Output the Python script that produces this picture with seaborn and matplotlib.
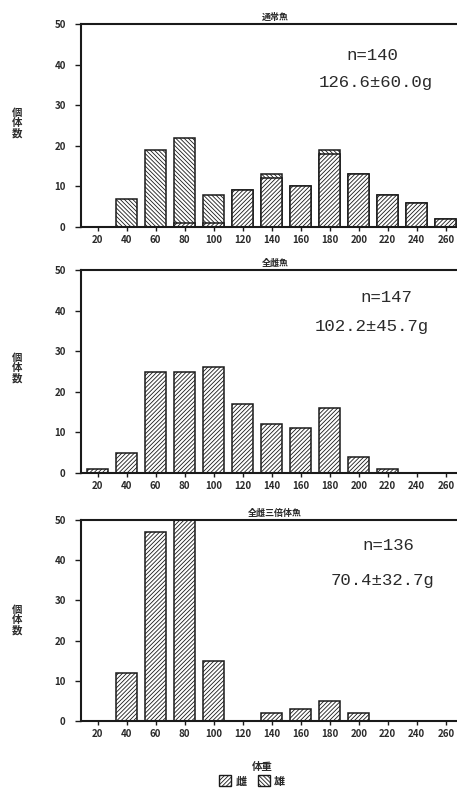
import numpy as np
import pandas as pd
import matplotlib.pyplot as plt
import seaborn as sns
from matplotlib.patches import Patch

# weight classes (g)
weights = ['20', '40', '60', '80', '100', '120', '140', '160', '180', '200', '220', '240', '260']

# 通常魚 (normal fish): female bottom, male stacked on top
normal_female = [0, 0, 0, 1, 1, 9, 12, 10, 18, 13, 8, 6, 2]
normal_male = [0, 7, 19, 21, 7, 0, 1, 0, 1, 0, 0, 0, 0]

# 全雌魚 (all-female)
allfem = [1, 5, 25, 25, 26, 17, 12, 11, 16, 4, 1, 0, 0]

# 全雌三倍体魚 (all-female triploid)
triploid = [0, 12, 47, 50, 15, 0, 2, 3, 5, 2, 0, 0, 0]

titles = ['通常魚', '全雌魚', '全雌三倍体魚']
n_text = ['n=140', 'n=147', 'n=136']
mean_text = ['126.6±60.0g', '102.2±45.7g', '70.4±32.7g']

sns.set_theme(style='white')
plt.rcParams['font.family'] = ['Noto Sans CJK JP', 'DejaVu Sans']
plt.rcParams['hatch.linewidth'] = 0.6
plt.rcParams['hatch.color'] = '#222222'

W, H = 457, 789
fig = plt.figure(figsize=(W / 100, H / 100), dpi=100)
fig.patch.set_facecolor('white')

# axes boxes in pixels: (left, top, bottom)
boxes = [(81, 24, 227), (81, 270, 473), (81, 520, 721)]
ax_right = 469

panels = []
for l, t, b in boxes:
    ax = fig.add_axes([l / W, 1 - b / H, (ax_right - l) / W, (b - t) / H])
    panels.append(ax)

txtc = '#2a2a2a'
male_hatch = '\\' * 8
fem_hatch = '/' * 8


def draw_bars(ax, vals, hatch):
    df = pd.DataFrame({'w': weights, 'n': vals})
    sns.barplot(data=df, x='w', y='n', order=weights, ax=ax, color='white',
                width=0.72, edgecolor='#1a1a1a', linewidth=1.1, hatch=hatch,
                saturation=1, errorbar=None)
    # hide zero-height bars
    for p in ax.patches:
        if p.get_height() == 0:
            p.set_visible(False)


# top: total with male hatch, female overlay at bottom
total = list(np.array(normal_female) + np.array(normal_male))
draw_bars(panels[0], total, male_hatch)
draw_bars(panels[0], normal_female, fem_hatch)
draw_bars(panels[1], allfem, fem_hatch)
draw_bars(panels[2], triploid, fem_hatch)

ylab_y = [123, 368, 620]
n_pos = [(372, 55), (386, 297), (388, 545)]
m_pos = [(376, 83), (372, 326), (382, 580)]
for i, ax in enumerate(panels):
    ax.set_xlim(-0.57, 12.8)
    ax.set_ylim(0, 50)
    ax.set_yticks([0, 10, 20, 30, 40, 50])
    ax.set_xlabel('')
    ax.set_ylabel('')
    for s in ['top', 'left', 'bottom']:
        ax.spines[s].set_linewidth(1.5)
        ax.spines[s].set_color('#1a1a1a')
    ax.spines['right'].set_visible(False)
    ax.tick_params(axis='both', which='both', direction='out', length=4, width=1,
                   colors='#1a1a1a', labelsize=7, labelcolor=txtc, pad=3)
    ax.tick_params(axis='x', bottom=True, length=3)
    ax.tick_params(axis='y', left=True, pad=7)
    for lab in ax.get_xticklabels() + ax.get_yticklabels():
        lab.set_fontweight('bold')
    ax.set_title(titles[i], fontsize=6.5, fontweight='bold', color=txtc, pad=3)
    fig.text(n_pos[i][0] / W, 1 - n_pos[i][1] / H, n_text[i], ha='center', va='center',
             fontsize=12.5, family='Liberation Mono', color=txtc)
    fig.text(m_pos[i][0] / W, 1 - m_pos[i][1] / H, mean_text[i], ha='center', va='center',
             fontsize=12.5, family='Liberation Mono', color=txtc)
    fig.text(17 / W, 1 - ylab_y[i] / H, '個\n体\n数', ha='center', va='center',
             fontsize=7.5, fontweight='bold', color=txtc, linespacing=1.0)

fig.text(262 / W, 1 - 767 / H, '体重', ha='center', va='center', fontsize=7.5,
         fontweight='bold', color=txtc)

handles = [Patch(facecolor='white', edgecolor='#1a1a1a', hatch=fem_hatch, label='雌'),
           Patch(facecolor='white', edgecolor='#1a1a1a', hatch=male_hatch, label='雄')]
leg = fig.legend(handles=handles, loc='center', bbox_to_anchor=(252 / W, 1 - 781 / H),
                 ncol=2, frameon=False, handlelength=1.1, handleheight=1.1,
                 handletextpad=0.4, columnspacing=1.0, prop={'size': 8, 'weight': 'bold'})
for t in leg.get_texts():
    t.set_color(txtc)

fig.savefig('out.png', dpi=100, facecolor='white')
